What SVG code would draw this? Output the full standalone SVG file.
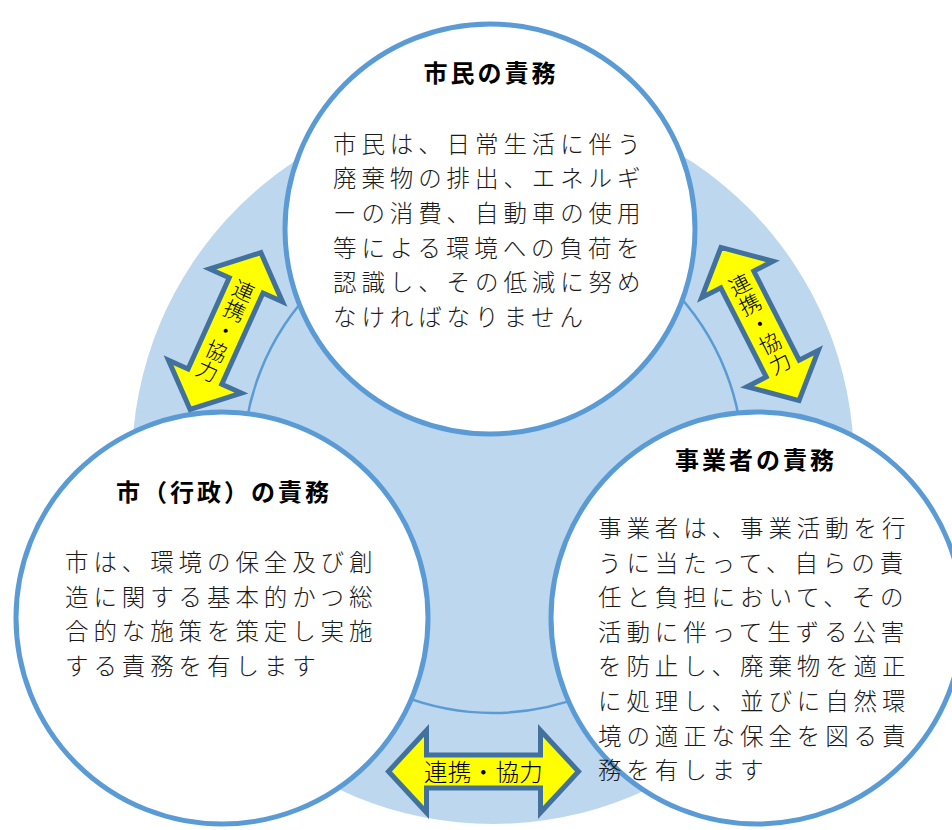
<svg xmlns="http://www.w3.org/2000/svg" width="952" height="830" viewBox="0 0 952 830">
<style>
.node{fill:#ffffff;stroke:#5b9bd5;stroke-width:5}
.title{font-family:"Noto Sans CJK JP","Noto Sans CJK SC",sans-serif;font-weight:bold;font-size:24px;letter-spacing:3px;fill:#000;text-anchor:middle}
.body{font-family:"Noto Sans CJK JP","Noto Sans CJK SC",sans-serif;font-weight:300;font-size:23.5px;letter-spacing:4.9px;fill:#1a1a1a}
.arrow{fill:#ffff00;stroke:#41719c;stroke-width:5;stroke-linejoin:miter}
.alabel{font-family:"Noto Sans CJK JP","Noto Sans CJK SC",sans-serif;font-weight:300;font-size:21.5px;fill:#000;text-anchor:middle}
</style>
<defs>
<path id="varrow" d="M0,-86 L-40,-50 L-18.5,-50 L-18.5,50 L-40,50 L0,86 L40,50 L18.5,50 L18.5,-50 L40,-50 Z"/>
</defs>
<g id="background">
<circle cx="493" cy="463" r="361" fill="#bdd7ee"/>
<circle cx="493" cy="463" r="250" fill="none" stroke="#5b9bd5" stroke-width="2.5"/>
</g>
<g id="node-citizen">
<circle class="node" cx="490" cy="229" r="205"/>
<text class="title" x="491" y="82">市民の責務</text>
<text class="body" x="333">
<tspan x="333" y="152.5">市民は、日常生活に伴う</tspan>
<tspan x="333" y="187.2">廃棄物の排出、エネルギ</tspan>
<tspan x="333" y="221.9">ーの消費、自動車の使用</tspan>
<tspan x="333" y="256.6">等による環境への負荷を</tspan>
<tspan x="333" y="291.3">認識し、その低減に努め</tspan>
<tspan x="333" y="326">なければなりません</tspan>
</text>
</g>
<g id="node-city">
<circle class="node" cx="222" cy="618" r="206"/>
<text class="title" x="224" y="501">市（行政）の責務</text>
<text class="body" x="65">
<tspan x="65" y="571">市は、環境の保全及び創</tspan>
<tspan x="65" y="605.5">造に関する基本的かつ総</tspan>
<tspan x="65" y="640">合的な施策を策定し実施</tspan>
<tspan x="65" y="674.5">する責務を有します</tspan>
</text>
</g>
<g id="node-business">
<circle class="node" cx="757" cy="618" r="206"/>
<text class="title" x="756" y="469">事業者の責務</text>
<text class="body" x="598">
<tspan x="598" y="537">事業者は、事業活動を行</tspan>
<tspan x="598" y="571.6">うに当たって、自らの責</tspan>
<tspan x="598" y="606.2">任と負担において、その</tspan>
<tspan x="598" y="640.8">活動に伴って生ずる公害</tspan>
<tspan x="598" y="675.4">を防止し、廃棄物を適正</tspan>
<tspan x="598" y="710">に処理し、並びに自然環</tspan>
<tspan x="598" y="744.6">境の適正な保全を図る責</tspan>
<tspan x="598" y="779.2">務を有します</tspan>
</text>
</g>
<g id="connectors">
<g id="arrow-left" transform="translate(225.5,331) rotate(24.3)">
<use href="#varrow" class="arrow"/>
<text class="alabel"><tspan x="0" y="-36">連</tspan><tspan x="0" y="-14">携</tspan><tspan x="0" y="8">・</tspan><tspan x="0" y="30">協</tspan><tspan x="0" y="52">力</tspan></text>
</g>
<g id="arrow-right" transform="translate(760,324) rotate(-27)">
<use href="#varrow" class="arrow"/>
<text class="alabel"><tspan x="0" y="-36">連</tspan><tspan x="0" y="-14">携</tspan><tspan x="0" y="8">・</tspan><tspan x="0" y="30">協</tspan><tspan x="0" y="52">力</tspan></text>
</g>
<g id="arrow-bottom" transform="translate(483.5,771.5)">
<path class="arrow" d="M-95,0 L-57,-41 L-57,-16.5 L57,-16.5 L57,-41 L95,0 L57,41 L57,16.5 L-57,16.5 L-57,41 Z"/>
<text class="alabel" x="0" y="9" style="font-size:23.5px;letter-spacing:0.3px">連携・協力</text>
</g>
</g>
</svg>
